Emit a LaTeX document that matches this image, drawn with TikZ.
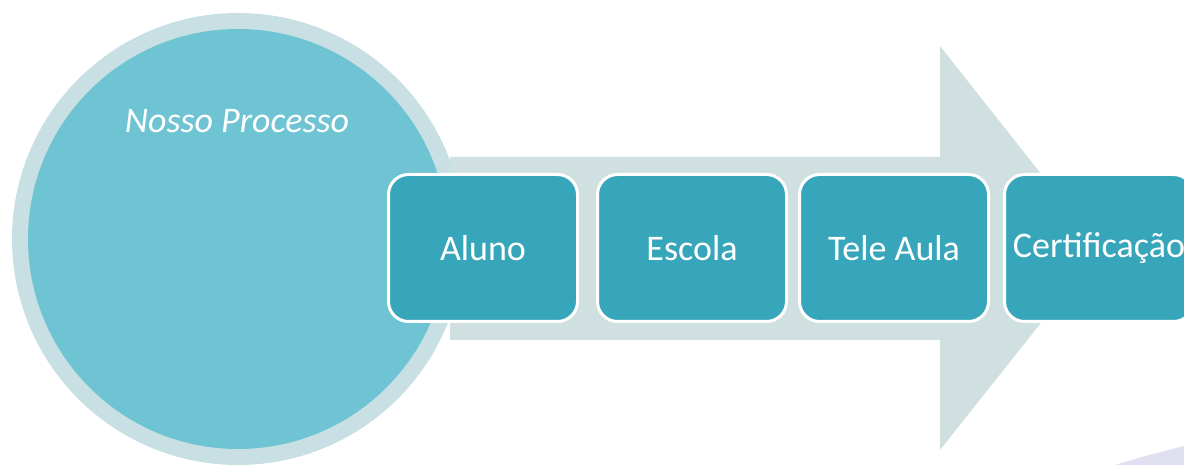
\documentclass[tikz,border=0pt]{standalone}
\usepackage{fontspec}
\setmainfont{Carlito}
\usetikzlibrary{positioning}

\definecolor{ringcol}{HTML}{C8E0E3}
\definecolor{circcol}{HTML}{6FC4D4}
\definecolor{arrowcol}{HTML}{D0DFE0}
\definecolor{stepcol}{HTML}{38A6BA}
\definecolor{lavcol}{HTML}{E0E0F0}

\begin{document}
\begin{tikzpicture}[x=1pt,y=1pt,
	stepbox/.style={draw=white, line width=3pt, fill=stepcol, rounded corners=20pt,
		minimum width=189pt, minimum height=147pt, inner sep=0pt,
		text=white, font=\fontsize{36}{40}\selectfont}]

		\useasboundingbox (0,0) rectangle (1184,465);

		\coordinate (O) at (238,226);
		\coordinate (T) at (1100,216.5);

		% big arrow behind
		\fill [arrowcol] (450,125) -- (940,125) -- (940,15) -- (T) -- (940,419) -- (940,308) -- (450,308) -- cycle;

		% circle
		\fill [ringcol] (O) circle (226);
		\fill [circcol] (O) circle (210);
		\node (title) [text=white, font=\fontsize{36}{40}\selectfont\itshape] at (237,344) {Nosso\ Processo};

		% corner shape
		\fill [lavcol] (1115,0) .. controls (1145,9) .. (1184,19) -- (1184,0) -- cycle;

		% steps
		\node (aluno) [stepbox] at (483,217) {Aluno};
		\node (escola) [stepbox, right=17pt of aluno] {Escola};
		\node (tele) [stepbox, right=10pt of escola] {Tele Aula};
		\node (cert) [stepbox, right=13pt of tele] {Certificação};

\end{tikzpicture}
\end{document}
